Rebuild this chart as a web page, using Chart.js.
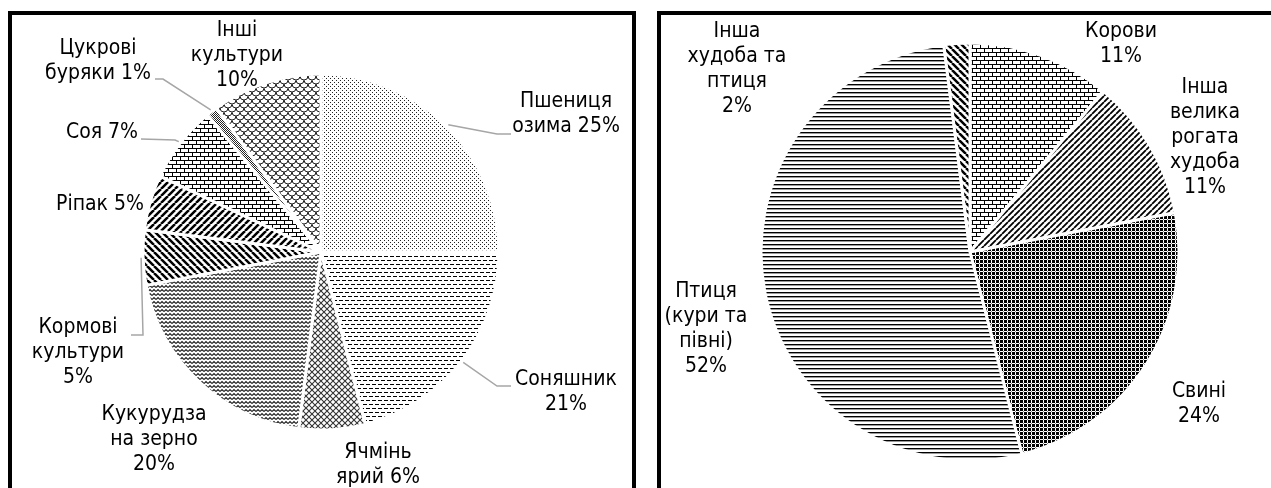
<!DOCTYPE html>
<html>
<head>
<meta charset="utf-8">
<script src="https://cdn.jsdelivr.net/npm/chart.js@4"></script>
<style>
  html, body { margin: 0; padding: 0; background: #fff; overflow: hidden; }
  body { width: 1271px; height: 488px; position: relative; }
  .panel { position: absolute; top: 11px; height: 520px; border: 4px solid #000; border-bottom: none; box-sizing: border-box; }
  #cropPanel { left: 8px; width: 628px; }
  #stockPanel { left: 657px; width: 700px; }
  canvas { position: absolute; left: 0; top: 0; }
</style>
</head>
<body>
<div class="panel" id="cropPanel"></div>
<div class="panel" id="stockPanel"></div>
<canvas id="cropChart" width="1271" height="488"></canvas>
<canvas id="stockChart" width="1271" height="488"></canvas>

<script>
// Structure of crops (left) and of livestock (right), %
const cropNames = ["Пшениця озима", "Соняшник", "Ячмінь ярий", "Кукурудза на зерно", "Кормові культури", "Ріпак", "Соя", "Цукрові буряки", "Інші культури"];
const cropShares = [25, 21, 6, 20, 5, 5, 7, 1, 10];

const stockNames = ["Корови", "Інша велика рогата худоба", "Свині", "Птиця (кури та півні)", "Інша худоба та птиця"];
const stockShares = [11, 11, 24, 52, 2];

const FONT = '21px "DejaVu Sans Condensed", "DejaVu Sans", sans-serif';
const LINE_H = 25;

// label placement: centre x, first line y, words per line, optional leader elbow/end
const cropLabelLayout = [
  { x: 566, y: 102, wrap: [1, 2], leader: [[497, 134], [511, 134]] },
  { x: 566, y: 380, wrap: [1, 1], leader: [[497, 386], [511, 386]] },
  { x: 378, y: 453, wrap: [1, 2] },
  { x: 154, y: 415, wrap: [1, 2, 1] },
  { x: 78, y: 328, wrap: [1, 1, 1], leader: [[143, 335], [131, 335]] },
  { x: 100, y: 205, wrap: [2] },
  { x: 102, y: 133, wrap: [2], leader: [[175, 140], [141, 139]] },
  { x: 98, y: 49, wrap: [1, 2], leader: [[163, 79], [155, 79]] },
  { x: 237, y: 31, wrap: [1, 1, 1] }
];
const stockLabelLayout = [
  { x: 1121, y: 32, wrap: [1, 1] },
  { x: 1205, y: 88, wrap: [1, 1, 1, 1, 1] },
  { x: 1199, y: 392, wrap: [1, 1] },
  { x: 706, y: 292, wrap: [1, 2, 1, 1] },
  { x: 737, y: 32, wrap: [1, 2, 1, 1] }
];

// ---- hatch fills ----
function makePattern(w, h, draw) {
  const c = document.createElement("canvas");
  c.width = w; c.height = h;
  const g = c.getContext("2d");
  g.fillStyle = "#fff";
  g.fillRect(0, 0, w, h);
  g.fillStyle = "#000";
  g.strokeStyle = "#000";
  draw(g, w, h);
  return g.createPattern(c, "repeat");
}

function diagonal(s, lw, up, color) {
  return makePattern(s, s, (g) => {
    g.strokeStyle = color || "#000";
    g.lineWidth = lw;
    g.beginPath();
    [-s, 0, s].forEach(k => {
      if (up) { g.moveTo(k, s); g.lineTo(k + s, 0); }
      else { g.moveTo(k, 0); g.lineTo(k + s, s); }
    });
    g.stroke();
  });
}

const dots = makePattern(4, 4, g => { g.fillStyle = "#222"; g.fillRect(0, 0, 1, 1); g.fillRect(2, 2, 1, 1); });
const dashes = makePattern(6, 8, g => {
  g.fillRect(0, 0, 4, 1);
  g.fillRect(3, 4, 3, 1); g.fillRect(0, 4, 1, 1);
});
const diamonds = makePattern(6, 6, g => {
  g.strokeStyle = "#333"; g.lineWidth = 1.1;
  g.beginPath(); g.moveTo(0, 0); g.lineTo(6, 6); g.moveTo(0, 6); g.lineTo(6, 0); g.stroke();
});
const zigzag = makePattern(4, 4, g => {
  g.strokeStyle = "#222"; g.lineWidth = 1.2;
  g.beginPath(); g.moveTo(0, 3.5); g.lineTo(2, 1.5); g.lineTo(4, 3.5); g.stroke();
});
const bricks = makePattern(8, 8, g => {
  g.fillRect(0, 0, 8, 1); g.fillRect(0, 4, 8, 1);
  g.fillRect(0, 0, 1, 4); g.fillRect(4, 4, 1, 4);
});
const scales = makePattern(8, 8, g => {
  g.strokeStyle = "#222"; g.lineWidth = 1;
  g.beginPath(); g.arc(4, 0, 4, 0, Math.PI); g.stroke();
  g.beginPath(); g.arc(0, 4, 4, 0, Math.PI); g.stroke();
  g.beginPath(); g.arc(8, 4, 4, 0, Math.PI); g.stroke();
  g.beginPath(); g.arc(4, 8, 4, 0, Math.PI); g.stroke();
});
const smallChecker = makePattern(2, 2, g => { g.fillStyle = "#222"; g.fillRect(0, 0, 1, 1); g.fillRect(1, 1, 1, 1); });
const gridSquares = makePattern(4, 4, g => {
  g.fillRect(0, 0, 3, 3);
  g.fillStyle = "#888"; g.fillRect(3, 3, 1, 1);
});
const hLines = makePattern(4, 4, g => {
  g.fillRect(0, 0, 4, 1);
  g.fillStyle = "#999"; g.fillRect(0, 1, 4, 1);
});

const cropFills = [dots, dashes, diamonds, zigzag, diagonal(7, 2.5, false), diagonal(7, 2.5, true), bricks, smallChecker, scales];
const stockFills = [bricks, diagonal(6, 1.8, true), gridSquares, hLines, diagonal(7, 2.5, false)];

// ---- labels with leader lines ----
function labelPlugin(layout) {
  return {
    id: "pieLabels",
    afterDatasetsDraw(chart) {
      const ctx = chart.ctx;
      const arcs = chart.getDatasetMeta(0).data;
      const names = chart.data.labels;
      const values = chart.data.datasets[0].data;
      ctx.save();
      layout.forEach((lay, i) => {
        if (lay.leader) {
          const a = arcs[i];
          const mid = (a.startAngle + a.endAngle) / 2;
          const r = a.outerRadius + 2;
          ctx.strokeStyle = "#a6a6a6";
          ctx.lineWidth = 1.5;
          ctx.beginPath();
          ctx.moveTo(a.x + Math.cos(mid) * r, a.y + Math.sin(mid) * r);
          lay.leader.forEach(p => ctx.lineTo(p[0], p[1]));
          ctx.stroke();
        }
        const words = (names[i] + " " + values[i] + "%").split(" ");
        let k = 0;
        const lines = lay.wrap.map(n => words.slice(k, k += n).join(" "));
        ctx.font = FONT;
        ctx.fillStyle = "#000";
        ctx.textAlign = "center";
        ctx.textBaseline = "middle";
        lines.forEach((ln, j) => ctx.fillText(ln, lay.x, lay.y + j * LINE_H));
      });
      ctx.restore();
    }
  };
}

function makePie(id, names, shares, fills, radius, padding, layout) {
  return new Chart(document.getElementById(id), {
    type: "pie",
    data: {
      labels: names,
      datasets: [{ data: shares, backgroundColor: fills, borderColor: "#fff", borderWidth: 3, radius: radius }]
    },
    options: {
      responsive: false,
      animation: false,
      layout: { padding: padding },
      plugins: { legend: { display: false }, tooltip: { enabled: false } }
    },
    plugins: [labelPlugin(layout)]
  });
}

makePie("cropChart", cropNames, cropShares, cropFills, 178, { left: 0, right: 629, top: 16, bottom: 0 }, cropLabelLayout);
makePie("stockChart", stockNames, stockShares, stockFills, 209, { left: 669, right: 0, top: 16, bottom: 0 }, stockLabelLayout);
</script>
</body>
</html>
